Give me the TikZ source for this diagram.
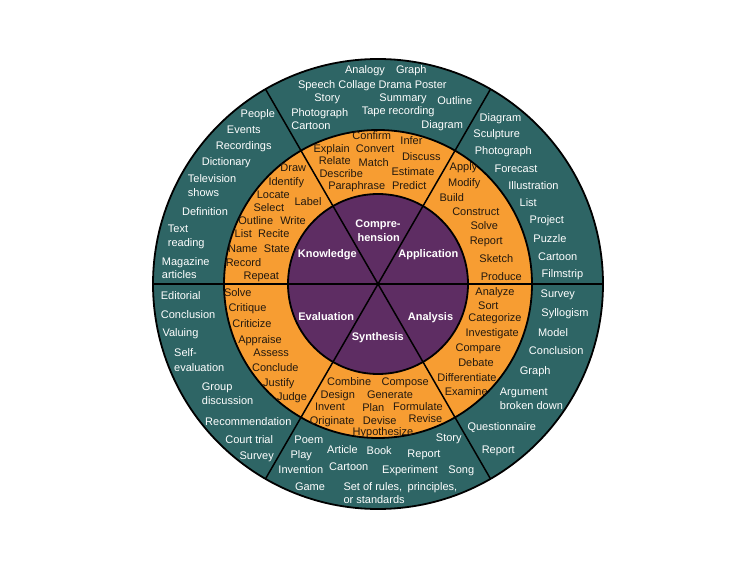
\documentclass[tikz,border=0pt]{standalone}
\usepackage{fontspec}
\setmainfont{Liberation Sans}
\definecolor{ringteal}{RGB}{46,101,101}
\definecolor{ringorange}{RGB}{247,157,50}
\definecolor{ringpurple}{RGB}{94,45,99}
\definecolor{inkdark}{RGB}{35,25,15}
\tikzset{
  wt/.style={font=\fontsize{11}{13}\selectfont, text=white, anchor=base, inner sep=0pt},
  wl/.style={wt, anchor=base west},
  ok/.style={font=\fontsize{11}{13}\selectfont, text=inkdark, anchor=base, inner sep=0pt},
  pl/.style={font=\fontsize{11}{13}\selectfont\bfseries, text=white, anchor=base, inner sep=0pt},
  rim/.style={draw=black, line width=1.8pt},
  spoke/.style={draw=black, line width=1.5pt}
}
\begin{document}
\begin{tikzpicture}[x=1pt,y=-1pt]
\fill[white] (0,0) rectangle (756,567);
\useasboundingbox (0,0) rectangle (756,567);
\coordinate (c) at (378,284);
% rings
\fill[ringteal] (c) circle (225);
\fill[ringorange] (c) circle (154);
\fill[ringpurple] (c) circle (90);
% spokes
\path (c) ++(0:225) coordinate (e0);
\path (c) ++(60:225) coordinate (e60);
\path (c) ++(120:225) coordinate (e120);
\path (c) ++(180:225) coordinate (e180);
\path (c) ++(240:225) coordinate (e240);
\path (c) ++(300:225) coordinate (e300);
\draw[spoke] (e0) -- (e180);
\draw[spoke] (e60) -- (e240);
\draw[spoke] (e120) -- (e300);
\draw[rim] (c) circle (225);
\draw[rim] (c) circle (154);
\draw[rim] (c) circle (90);

% ---- Comprehension outer (top)
\node[wt] (t1) at (365,74) {Analogy};
\node[wt] (t2) at (411.3,74) {Graph};
\node[wt] (t3) at (372.3,88.3) {Speech Collage Drama Poster};
\node[wt] (t4) at (327.2,101.7) {Story};
\node[wt] (t5) at (403,101.3) {Summary};
\node[wt] (t6) at (454.8,104.7) {Outline};
\node[wt] (t7) at (319.7,116.3) {Photograph};
\node[wt] (t8) at (398.2,115) {Tape recording};
\node[wt] (t9) at (311,129.7) {Cartoon};
\node[wt] (t10) at (442.2,128.3) {Diagram};

% ---- Knowledge outer
\node[wt] (k1) at (257.8,118) {People};
\node[wt] (k2) at (243.8,134) {Events};
\node[wt] (k3) at (243.7,149.3) {Recordings};
\node[wt] (k4) at (226.3,165.3) {Dictionary};
\node[wl] (k5) at (187.7,183) {Television};
\node[wl] (k6) at (187.7,196.7) {shows};
\node[wt] (k7) at (205,216) {Definition};
\node[wl] (k8) at (167.7,233) {Text};
\node[wl] (k9) at (167.7,246.3) {reading};
\node[wl] (k10) at (161.7,265.3) {Magazine};
\node[wl] (k11) at (161.7,279) {articles};

% ---- Knowledge middle
\node[ok] (ko1) at (293.3,171.7) {Draw};
\node[ok] (ko2) at (286.3,185.7) {Identify};
\node[ok] (ko3) at (273.3,198.3) {Locate};
\node[ok] (ko4) at (308,205.7) {Label};
\node[ok] (ko5) at (268.8,211.7) {Select};
\node[ok] (ko6) at (255.8,224.3) {Outline};
\node[ok] (ko7) at (293,224.3) {Write};
\node[ok] (ko8) at (243.3,238) {List};
\node[ok] (ko9) at (273.8,238) {Recite};
\node[ok] (ko10) at (242.8,252.3) {Name};
\node[ok] (ko11) at (276.8,252.3) {State};
\node[ok] (ko12) at (243.5,266.3) {Record};
\node[ok] (ko13) at (261.3,279.3) {Repeat};

% ---- Comprehension middle
\node[ok] (co1) at (371.7,140) {Confirm};
\node[ok] (co2) at (411.5,145) {Infer};
\node[ok] (co3) at (331.7,152.3) {Explain};
\node[ok] (co4) at (375.2,152.3) {Convert};
\node[ok] (co5) at (421.3,160.7) {Discuss};
\node[ok] (co6) at (334.8,164.7) {Relate};
\node[ok] (co7) at (373.7,166.3) {Match};
\node[ok] (co8) at (413,175.7) {Estimate};
\node[ok] (co9) at (341.2,177.3) {Describe};
\node[ok] (co10) at (356.7,190) {Paraphrase};
\node[ok] (co11) at (409.2,190) {Predict};

% ---- inner labels
\node[pl] (lk) at (327.3,258) {Knowledge};
\node[pl] (lc1) at (378,228) {Compre-};
\node[pl] (lc2) at (378.7,241.3) {hension};
\node[pl] (lap) at (428.3,258) {Application};
\node[pl] (lev) at (326.2,320) {Evaluation};
\node[pl] (lan) at (430.5,320) {Analysis};
\node[pl] (lsy) at (377.8,340.7) {Synthesis};

% ---- Application middle
\node[ok] (ao1) at (463.5,170.7) {Apply};
\node[ok] (ao2) at (464.3,186.7) {Modify};
\node[ok] (ao3) at (451.8,201.3) {Build};
\node[ok] (ao4) at (475.8,215.7) {Construct};
\node[ok] (ao5) at (484.3,229.7) {Solve};
\node[ok] (ao6) at (486.3,245) {Report};
\node[ok] (ao7) at (496.3,262.7) {Sketch};
\node[ok] (ao8) at (501.3,280) {Produce};

% ---- Application outer
\node[wt] (a1) at (500.5,121.7) {Diagram};
\node[wt] (a2) at (496.7,138) {Sculpture};
\node[wt] (a3) at (503.3,155) {Photograph};
\node[wt] (a4) at (516,173) {Forecast};
\node[wt] (a5) at (533.5,190) {Illustration};
\node[wt] (a6) at (528.2,206.7) {List};
\node[wt] (a7) at (546.8,224) {Project};
\node[wt] (a8) at (550,243) {Puzzle};
\node[wt] (a9) at (557.7,260.7) {Cartoon};
\node[wt] (a10) at (562.5,278) {Filmstrip};

% ---- Evaluation outer
\node[wl] (v1) at (160.7,299) {Editorial};
\node[wl] (v2) at (160.7,318) {Conclusion};
\node[wl] (v3) at (162.3,336.3) {Valuing};
\node[wl] (v4) at (174,356.7) {Self-};
\node[wl] (v5) at (174,371.3) {evaluation};
\node[wl] (v6) at (201.7,390.7) {Group};
\node[wl] (v7) at (201.7,404) {discussion};
\node[wt] (v8) at (248.3,425) {Recommendation};
\node[wt] (v9) at (249.2,443.3) {Court trial};
\node[wt] (v10) at (256.7,459.7) {Survey};

% ---- Evaluation middle
\node[ok] (vo1) at (237.8,296.7) {Solve};
\node[ok] (vo2) at (247.5,311.7) {Critique};
\node[ok] (vo3) at (252,327.3) {Criticize};
\node[ok] (vo4) at (260,343) {Appraise};
\node[ok] (vo5) at (271.2,356.7) {Assess};
\node[ok] (vo6) at (275.3,371.7) {Conclude};
\node[ok] (vo7) at (278.8,386.7) {Justify};
\node[ok] (vo8) at (292,400) {Judge};

% ---- Synthesis middle
\node[ok] (so1) at (349.2,385) {Combine};
\node[ok] (so2) at (405.2,385) {Compose};
\node[ok] (so3) at (337.8,398.3) {Design};
\node[ok] (so4) at (390,398.3) {Generate};
\node[ok] (so5) at (330,410.7) {Invent};
\node[ok] (so6) at (373.3,411) {Plan};
\node[ok] (so7) at (418,410.7) {Formulate};
\node[ok] (so8) at (332.2,424) {Originate};
\node[ok] (so9) at (379.8,424) {Devise};
\node[ok] (so10) at (425.5,422.3) {Revise};
\node[ok] (so11) at (383,435.7) {Hypothesize};

% ---- Synthesis outer
\node[wt] (s1) at (308.8,443.3) {Poem};
\node[wt] (s2) at (301.2,458) {Play};
\node[wt] (s3) at (342.5,453.3) {Article};
\node[wt] (s4) at (379.2,454) {Book};
\node[wt] (s5) at (448.8,441.7) {Story};
\node[wt] (s6) at (424,457.3) {Report};
\node[wt] (s7) at (300.8,473) {Invention};
\node[wt] (s8) at (348.8,470) {Cartoon};
\node[wt] (s9) at (410,473) {Experiment};
\node[wt] (s10) at (461.3,473) {Song};
\node[wt] (s11) at (310,490) {Game};
\node[wl] (s12) at (343.3,490) {Set of rules,\enspace principles,};
\node[wl] (s13) at (343.3,503.3) {or standards};

% ---- Analysis middle
\node[ok] (no1) at (495,295.7) {Analyze};
\node[ok] (no2) at (488.3,309) {Sort};
\node[ok] (no3) at (495,321.7) {Categorize};
\node[ok] (no4) at (492.2,336.7) {Investigate};
\node[ok] (no5) at (478.3,351.7) {Compare};
\node[ok] (no6) at (476,366.3) {Debate};
\node[ok] (no7) at (467,381.3) {Differentiate};
\node[ok] (no8) at (466.3,395.7) {Examine};

% ---- Analysis outer
\node[wt] (n1) at (557.8,298) {Survey};
\node[wt] (n2) at (565,316.3) {Syllogism};
\node[wt] (n3) at (553,336.7) {Model};
\node[wt] (n4) at (556.2,354) {Conclusion};
\node[wt] (n5) at (535.2,374) {Graph};
\node[wl] (n6) at (499.7,395.7) {Argument};
\node[wl] (n7) at (499.7,409) {broken down};
\node[wt] (n8) at (501.8,430) {Questionnaire};
\node[wt] (n9) at (498.3,453) {Report};
\end{tikzpicture}
\end{document}
